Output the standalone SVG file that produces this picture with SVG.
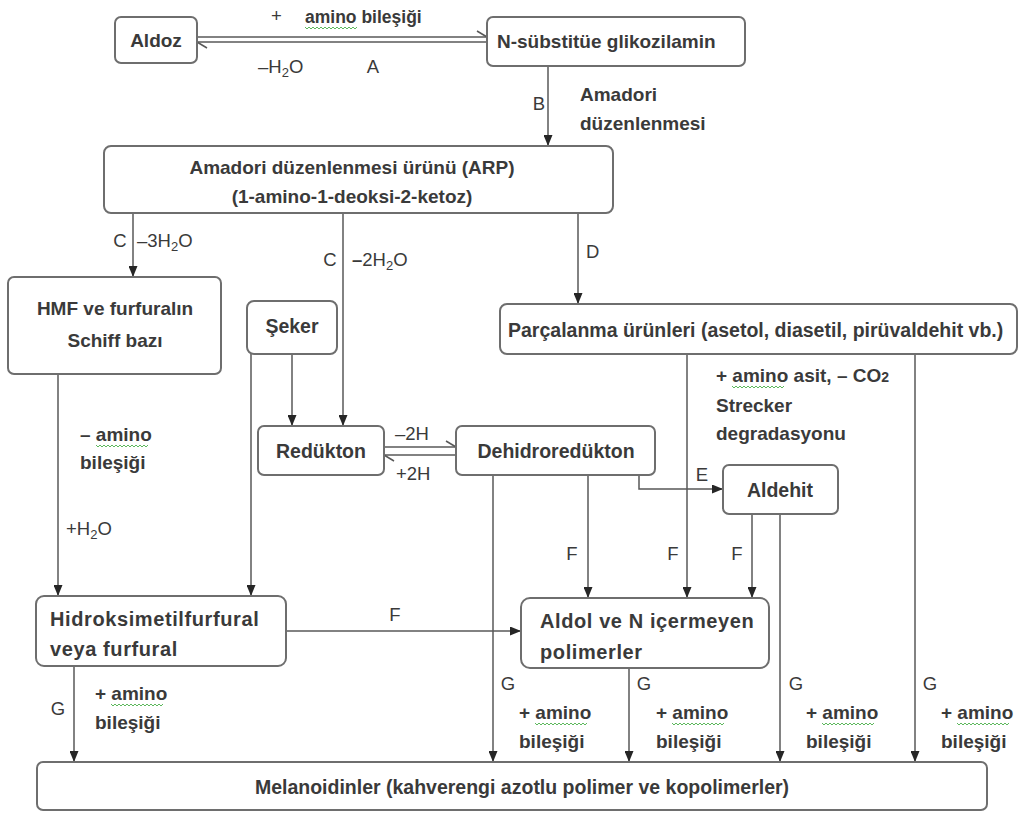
<svg xmlns="http://www.w3.org/2000/svg" xmlns:xlink="http://www.w3.org/1999/xlink" width="1021" height="813" viewBox="0 0 1021 813">
<style>
.box{fill:#fff;stroke:#6e6e6e;stroke-width:2}
.t{font-family:"Liberation Sans",Arial,sans-serif;font-weight:bold;fill:#3a3a3a;font-size:19px}
.n{font-size:19.5px}
.w{font-size:20px;letter-spacing:0.6px}
.s{font-size:17.5px}
.l{font-family:"Liberation Sans",Arial,sans-serif;fill:#3a3a3a;font-size:18.5px}
.m{text-anchor:middle}
.ln{stroke:#585858;stroke-width:1.5;fill:none}
.ar{marker-end:url(#ah)}
.wv{stroke:#5cb85c;stroke-width:1;fill:none}
</style>
<defs>
<marker id="ah" viewBox="0 0 11 9" refX="11" refY="4.5" markerWidth="11" markerHeight="9" markerUnits="userSpaceOnUse" orient="auto">
<path d="M0,0 L11,4.5 L0,9 z" fill="#262626"/>
</marker>
<path id="wv" class="wv" d="M0,0 l2,2 l2,-2 l2,2 l2,-2 l2,2 l2,-2 l2,2 l2,-2 l2,2 l2,-2 l2,2 l2,-2 l2,2 l2,-2 l2,2 l2,-2 l2,2 l2,-2 l2,2 l2,-2 l2,2 l2,-2 l2,2 l2,-2 l2,2 l2,-2"/>
</defs>
<rect width="1021" height="813" fill="#fff"/>

<g id="connectors">
<line class="ln" x1="197" y1="37" x2="487" y2="37"/>
<line class="ln" x1="487" y1="37" x2="477" y2="31"/>
<line class="ln" x1="197" y1="42" x2="487" y2="42"/>
<line class="ln" x1="197" y1="42" x2="207" y2="48"/>
<line class="ln ar" x1="548" y1="66" x2="548" y2="146"/>
<line class="ln ar" x1="133" y1="213" x2="133" y2="277"/>
<line class="ln ar" x1="343" y1="213" x2="343" y2="426"/>
<line class="ln ar" x1="578" y1="213" x2="578" y2="304"/>
<line class="ln ar" x1="58" y1="374" x2="58" y2="596"/>
<line class="ln ar" x1="251" y1="354" x2="251" y2="596"/>
<line class="ln ar" x1="292" y1="354" x2="292" y2="426"/>
<line class="ln" x1="384" y1="447" x2="456" y2="447"/>
<line class="ln" x1="456" y1="447" x2="446" y2="441"/>
<line class="ln" x1="384" y1="455" x2="456" y2="455"/>
<line class="ln" x1="384" y1="455" x2="394" y2="461"/>
<polyline class="ln ar" points="639,475 639,489 723,489"/>
<line class="ln ar" x1="493" y1="475" x2="493" y2="762"/>
<line class="ln ar" x1="588" y1="475" x2="588" y2="598"/>
<line class="ln ar" x1="687" y1="354" x2="687" y2="598"/>
<line class="ln ar" x1="915" y1="354" x2="915" y2="762"/>
<line class="ln ar" x1="752" y1="514" x2="752" y2="598"/>
<line class="ln ar" x1="780" y1="514" x2="780" y2="762"/>
<line class="ln ar" x1="286" y1="631" x2="521" y2="631"/>
<line class="ln ar" x1="74" y1="666" x2="74" y2="762"/>
<line class="ln ar" x1="629" y1="668" x2="629" y2="762"/>
</g>

<g id="labels">
<text class="l" x="271" y="22">+</text>
<text class="t s" x="305" y="23">amino bileşiği</text>
<use xlink:href="#wv" x="305" y="27"/>
<text class="l" x="258" y="73">–H<tspan font-size="13" dy="4">2</tspan><tspan dy="-4">O</tspan></text>
<text class="l m" x="373" y="73">A</text>
<text class="l m" x="539" y="110">B</text>
<text class="t" x="580" y="101">Amadori</text>
<text class="t" x="580" y="130">düzenlenmesi</text>
<text class="l m" x="120" y="247">C</text>
<text class="l" x="137" y="247">–3H<tspan font-size="13" dy="4">2</tspan><tspan dy="-4">O</tspan></text>
<text class="l m" x="330" y="266">C</text>
<text class="l" x="352" y="266"><tspan font-weight="bold">–</tspan>2H<tspan font-size="13" dy="4">2</tspan><tspan dy="-4">O</tspan></text>
<text class="l" x="586" y="258">D</text>
<text class="t" x="80" y="441">– amino</text>
<use xlink:href="#wv" x="96" y="445"/>
<text class="t" x="80" y="469">bileşiği</text>
<text class="l" x="66" y="535">+H<tspan font-size="13" dy="4">2</tspan><tspan dy="-4">O</tspan></text>
<text class="l" x="395" y="440">–2H</text>
<text class="l" x="396" y="480">+2H</text>
<text class="t" x="716" y="382">+ amino asit,  – CO<tspan font-size="14">2</tspan></text>
<use xlink:href="#wv" x="732" y="386"/>
<text class="t" x="716" y="412">Strecker</text>
<text class="t" x="716" y="440">degradasyonu</text>
<text class="l m" x="702" y="481">E</text>
<text class="l m" x="572" y="560">F</text>
<text class="l m" x="673" y="560">F</text>
<text class="l m" x="737" y="560">F</text>
<text class="l m" x="395" y="621">F</text>
<text class="l m" x="58" y="715">G</text>
<text class="t" x="95" y="700">+ amino</text>
<use xlink:href="#wv" x="111" y="704"/>
<text class="t" x="95" y="729">bileşiği</text>
<text class="l m" x="508" y="690">G</text>
<text class="t" x="519" y="719">+ amino</text>
<use xlink:href="#wv" x="535" y="723"/>
<text class="t" x="519" y="748">bileşiği</text>
<text class="l m" x="644" y="690">G</text>
<text class="t" x="656" y="719">+ amino</text>
<use xlink:href="#wv" x="672" y="723"/>
<text class="t" x="656" y="748">bileşiği</text>
<text class="l m" x="796" y="690">G</text>
<text class="t" x="806" y="719">+ amino</text>
<use xlink:href="#wv" x="822" y="723"/>
<text class="t" x="806" y="748">bileşiği</text>
<text class="l m" x="930" y="690">G</text>
<text class="t" x="941" y="719">+ amino</text>
<use xlink:href="#wv" x="957" y="723"/>
<text class="t" x="941" y="748">bileşiği</text>
</g>

<g id="aldoz"><rect class="box" x="115" y="17" width="82" height="46" rx="6"/><text class="t m" x="156" y="47">Aldoz</text></g>
<g id="glikozilamin"><rect class="box" x="487" y="17" width="258" height="49" rx="6"/><text class="t" x="497" y="48">N-sübstitüe glikozilamin</text></g>
<g id="arp"><rect class="box" x="104" y="146" width="509" height="67" rx="7"/><text class="t m" x="352" y="174">Amadori düzenlenmesi ürünü (ARP)</text><text class="t m" x="352" y="203">(1-amino-1-deoksi-2-ketoz)</text></g>
<g id="hmf-schiff"><rect class="box" x="8" y="277" width="213" height="97" rx="6"/><text class="t m" x="115" y="315">HMF ve furfuralın</text><text class="t m" x="115" y="347">Schiff bazı</text></g>
<g id="seker"><rect class="box" x="247" y="301" width="90" height="53" rx="7"/><text class="t n m" x="292" y="333">Şeker</text></g>
<g id="parcalanma"><rect class="box" x="500" y="304" width="517" height="50" rx="7"/><text class="t n" x="508" y="337">Parçalanma ürünleri (asetol, diasetil, pirüvaldehit vb.)</text></g>
<g id="redukton"><rect class="box" x="258" y="426" width="126" height="49" rx="6"/><text class="t n m" x="321" y="458">Redükton</text></g>
<g id="dehidroredukton"><rect class="box" x="456" y="426" width="199" height="49" rx="6"/><text class="t n m" x="556" y="458">Dehidroredükton</text></g>
<g id="aldehit"><rect class="box" x="723" y="465" width="115" height="49" rx="6"/><text class="t n m" x="780" y="497">Aldehit</text></g>
<g id="hidroksimetilfurfural"><rect class="box" x="36" y="596" width="250" height="70" rx="8"/><text class="t w" x="50" y="626">Hidroksimetilfurfural</text><text class="t w" x="50" y="656">veya furfural</text></g>
<g id="aldol"><rect class="box" x="521" y="598" width="248" height="70" rx="9"/><text class="t w" x="540" y="628">Aldol ve N içermeyen</text><text class="t w" x="540" y="659">polimerler</text></g>
<g id="melanoidinler"><rect class="box" x="37" y="762" width="950" height="48" rx="6"/><text class="t n m" x="522" y="794">Melanoidinler (kahverengi azotlu polimer ve kopolimerler)</text></g>
</svg>
